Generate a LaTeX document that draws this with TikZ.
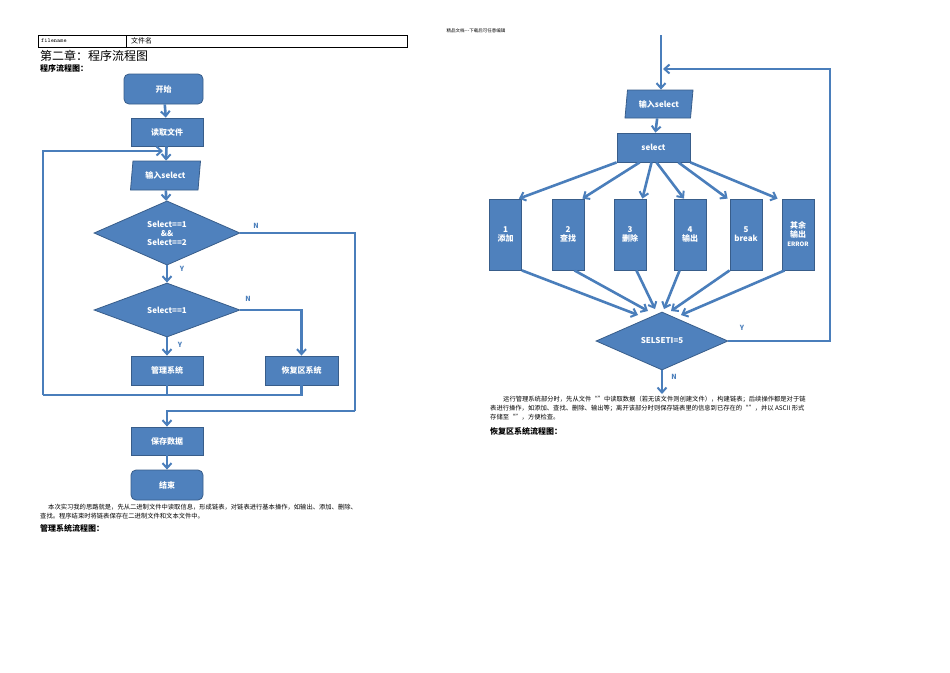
\documentclass[tikz,border=0pt]{standalone}
\usepackage{fontspec}
\setmainfont{Liberation Serif}
\newfontfamily\cjk{Noto Sans CJK SC}
\usetikzlibrary{shapes.geometric,arrows.meta}
\definecolor{bfill}{HTML}{4F81BD}
\definecolor{bdraw}{HTML}{385D8A}
\definecolor{lcol}{HTML}{4A7EBB}
\tikzset{
 x=1pt,y=-1pt,
 box/.style={draw=bdraw,fill=bfill,line width=0.8pt,text=white,font=\cjk\bfseries\fontsize{8}{9}\selectfont,inner sep=0pt,align=center},
 rbox/.style={box,rounded corners=5pt},
 para/.style={box,trapezium,trapezium left angle=72,trapezium right angle=108,trapezium stretches body},
 dia/.style={box,diamond},
 ln/.style={draw=lcol,line width=2.6pt},
 ar/.style={ln,-{Straight Barb[length=5pt,width=9pt,line width=2pt]}},
 lab/.style={text=lcol,font=\cjk\bfseries\fontsize{7}{8}\selectfont},
 txt/.style={font=\cjk\fontsize{6.3}{9}\selectfont,anchor=north west,inner sep=0pt,align=left},
 hd/.style={font=\cjk\bfseries\fontsize{8}{9}\selectfont,anchor=north west,inner sep=0pt}
}
\begin{document}
\begin{tikzpicture}
\useasboundingbox[fill=white] (0,0) rectangle (950,672);
% header
\node[font=\cjk\fontsize{4.5}{5}\selectfont,inner sep=0pt] (top) at (476,31) {精品文档---下载后可任意编辑};
\draw[line width=0.6pt] (38,35) rectangle (407,47);
\draw[line width=0.6pt] (126,35) -- (126,47);
\node[font=\ttfamily\fontsize{6}{7}\selectfont,anchor=west,inner sep=0pt] (fn) at (41,41) {filename};
\node[font=\cjk\fontsize{7}{8}\selectfont,anchor=west,inner sep=0pt] (wj) at (131,41) {文件名};
\node[font=\cjk\fontsize{12}{13}\selectfont,anchor=west,inner sep=0pt] (ch) at (40,56) {第二章：程序流程图};
\node[hd] (h1) at (40,64) {程序流程图：};
% left flowchart
\node[rbox,minimum width=79pt,minimum height=30pt] (start) at (163.5,89) {开始};
\node[box,minimum width=72pt,minimum height=28pt] (read) at (167,132) {读取文件};
\node[para,minimum width=70pt,minimum height=29pt] (in1) at (165.5,175.5) {输入select};
\node[dia,minimum width=146pt,minimum height=54pt] (d1) at (167,233) {Select==1\\\&\&\\Select==2};
\node[dia,minimum width=146pt,minimum height=54pt] (d2) at (167,310) {Select==1};
\node[box,minimum width=72pt,minimum height=29pt] (mg) at (167,370.5) {管理系统};
\node[box,minimum width=73pt,minimum height=29pt] (rc) at (301.5,370.5) {恢复区系统};
\node[box,minimum width=72pt,minimum height=28pt] (sv) at (167,441) {保存数据};
\node[rbox,minimum width=72pt,minimum height=30pt] (end) at (167,485) {结束};
\coordinate (lp) at (43,395);
\coordinate (nb) at (355,411);
\draw[ar] (start) -- (read);
\draw[ar] (read) -- (in1);
\draw[ar] (in1) -- (d1);
\draw[ar] (d1) -- (d2);
\draw[ar] (d2) -- (mg);
\draw[ar] (d2.east) -| (rc.north);
\draw[ln] (mg.south) -- (mg.south|-lp);
\draw[ln] (rc.south) -- (rc.south|-lp) -- (lp);
\draw[ar] (lp) -- (43,151) -- (163,151);
\draw[ln] (d1.east) -| (nb);
\draw[ar] (nb) -- (167,411) -- (sv.north);
\draw[ar] (sv) -- (end);
\node[lab] (n1) at (256,226) {N};
\node[lab] (y1) at (182,269) {Y};
\node[lab] (n2) at (248,299) {N};
\node[lab] (y2) at (180,345) {Y};
\node[txt] (p1) at (40,504) {\hspace*{8pt}本次实习我的思路就是，先从二进制文件中读取信息，形成链表，对链表进行基本操作，如输出、添加、删除、\\查找。程序结束时将链表保存在二进制文件和文本文件中。};
\node[hd] (h2) at (40,524) {管理系统流程图：};
% right flowchart
\node[para,minimum width=68pt,minimum height=28pt] (in2) at (659,104) {输入select};
\node[box,minimum width=73pt,minimum height=29pt] (sel) at (653.5,147.5) {select};
\foreach \n/\x/\t in {b1/505.5/{1\\添加},b2/568/{2\\查找},b3/630/{3\\删除},b4/690/{4\\输出},b5/746/{5\\break},b6/798/{其余\\输出\\{\fontsize{6}{7}\selectfont ERROR}}}
  \node[box,minimum width=32pt,minimum height=71pt] (\n) at (\x,234.5) {\t};
\node[dia,minimum width=132pt,minimum height=58pt] (d3) at (662,341) {SELSETI=5};
\coordinate (tin) at (661,35);
\coordinate (rt) at (830,69);
\coordinate (dn) at (662,394);
\draw[ar] (tin) -- (in2.north-|tin);
\draw[ar] (in2) -- (sel);
\draw[ar] (sel.south west) -- ([xshift=-3pt]b1.north east);
\draw[ar] ([xshift=-2pt]sel.south west) ++(25,0) -- ([xshift=-2pt]b2.north east);
\draw[ar] ([xshift=-2pt]sel.south) -- ([xshift=-4pt]b3.north east);
\draw[ar] ([xshift=3pt]sel.south) -- ([xshift=-6pt]b4.north);
\draw[ar] ([xshift=-12pt]sel.south east) -- ([xshift=-2pt]b5.north west);
\draw[ar] (sel.south east) -- ([xshift=-4pt]b6.north west);
\draw[ar] (b1.south east) -- (638,315);
\draw[ar] ([xshift=-10pt]b2.south east) -- (648,311);
\draw[ar] ([xshift=-10pt]b3.south east) -- (655,309);
\draw[ar] ([xshift=6pt]b4.south west) -- (664,309);
\draw[ar] (b5.south west) -- (671,311);
\draw[ar] ([xshift=3pt]b6.south west) -- (681,315);
\draw[ar] (d3.east) -| (rt) -- (663,69);
\draw[ar] (d3.south) -- (dn);
\node[lab] (y3) at (742,328) {Y};
\node[lab] (n3) at (674,377) {N};
\node[txt] (p2) at (490,396) {\hspace*{13pt}运行管理系统部分时，先从文件“”中读取数据（若无该文件则创建文件），构建链表；后续操作都是对于链\\表进行操作，如添加、查找、删除、输出等；离开该部分时则保存链表里的信息到已存在的“”，并以 ASCII 形式\\存储至“”，方便检查。};
\node[hd] (h3) at (490,427) {恢复区系统流程图：};
\end{tikzpicture}
\end{document}
